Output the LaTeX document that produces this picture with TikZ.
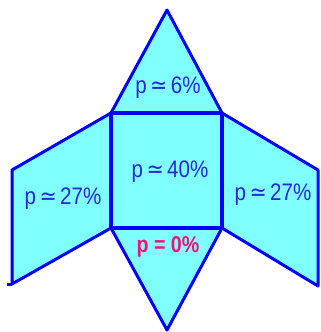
\documentclass[tikz,border=0pt]{standalone}
\usepackage{fontspec}
\setmainfont{Liberation Sans}
\newfontfamily\symfont{DejaVu Sans}
\usetikzlibrary{positioning}
\definecolor{faceblue}{RGB}{128, 255, 255}
\definecolor{edgeblue}{RGB}{0, 0, 250}
\definecolor{labelblue}{RGB}{40, 40, 215}
\definecolor{zeropink}{RGB}{240, 20, 120}
\newcommand{\approxsign}{{\symfont\char"2243}}
\newcommand{\narrow}[1]{\scalebox{0.86}[1]{#1}}

\begin{document}
\begin{tikzpicture}[x=1bp, y=-1bp]
  \tikzstyle{face} = [fill=faceblue, draw=edgeblue, line width=3bp, line join=round]
  \tikzstyle{prob} = [text=labelblue, font=\fontsize{24}{28}\selectfont, inner sep=0pt]
  \useasboundingbox (0,0) rectangle (321,332);

  % net of the pyramid
  \draw [face] (111,113) -- (12,170) -- (12,284) -- (111,228) -- cycle;
  \draw [face] (222,113) -- (318,170) -- (318,286) -- (222,228) -- cycle;
  \draw [face] (111,113) -- (167,10) -- (222,113) -- cycle;
  \draw [face] (111,228) -- (167,330) -- (222,228) -- cycle;
  \draw [face, line width=3.8bp] (111,113) rectangle (222,228);
  \draw [edgeblue, line width=3bp] (12,284) -- (7,284);

  \node (top) [prob] at (168,88) {\narrow{p\,\approxsign\,6\%}};
  \node (base) [prob] at (170,172) {\narrow{p\,\approxsign\,40\%}};
  \node (left) [prob] at (63,199) {\narrow{p\,\approxsign\,27\%}};
  \node (right) [prob] at (273,195) {\narrow{p\,\approxsign\,27\%}};
  \node (bottom) [prob, text=zeropink, font=\fontsize{23}{27}\selectfont\bfseries] at (168,247) {\narrow{p = 0\%}};
\end{tikzpicture}
\end{document}
